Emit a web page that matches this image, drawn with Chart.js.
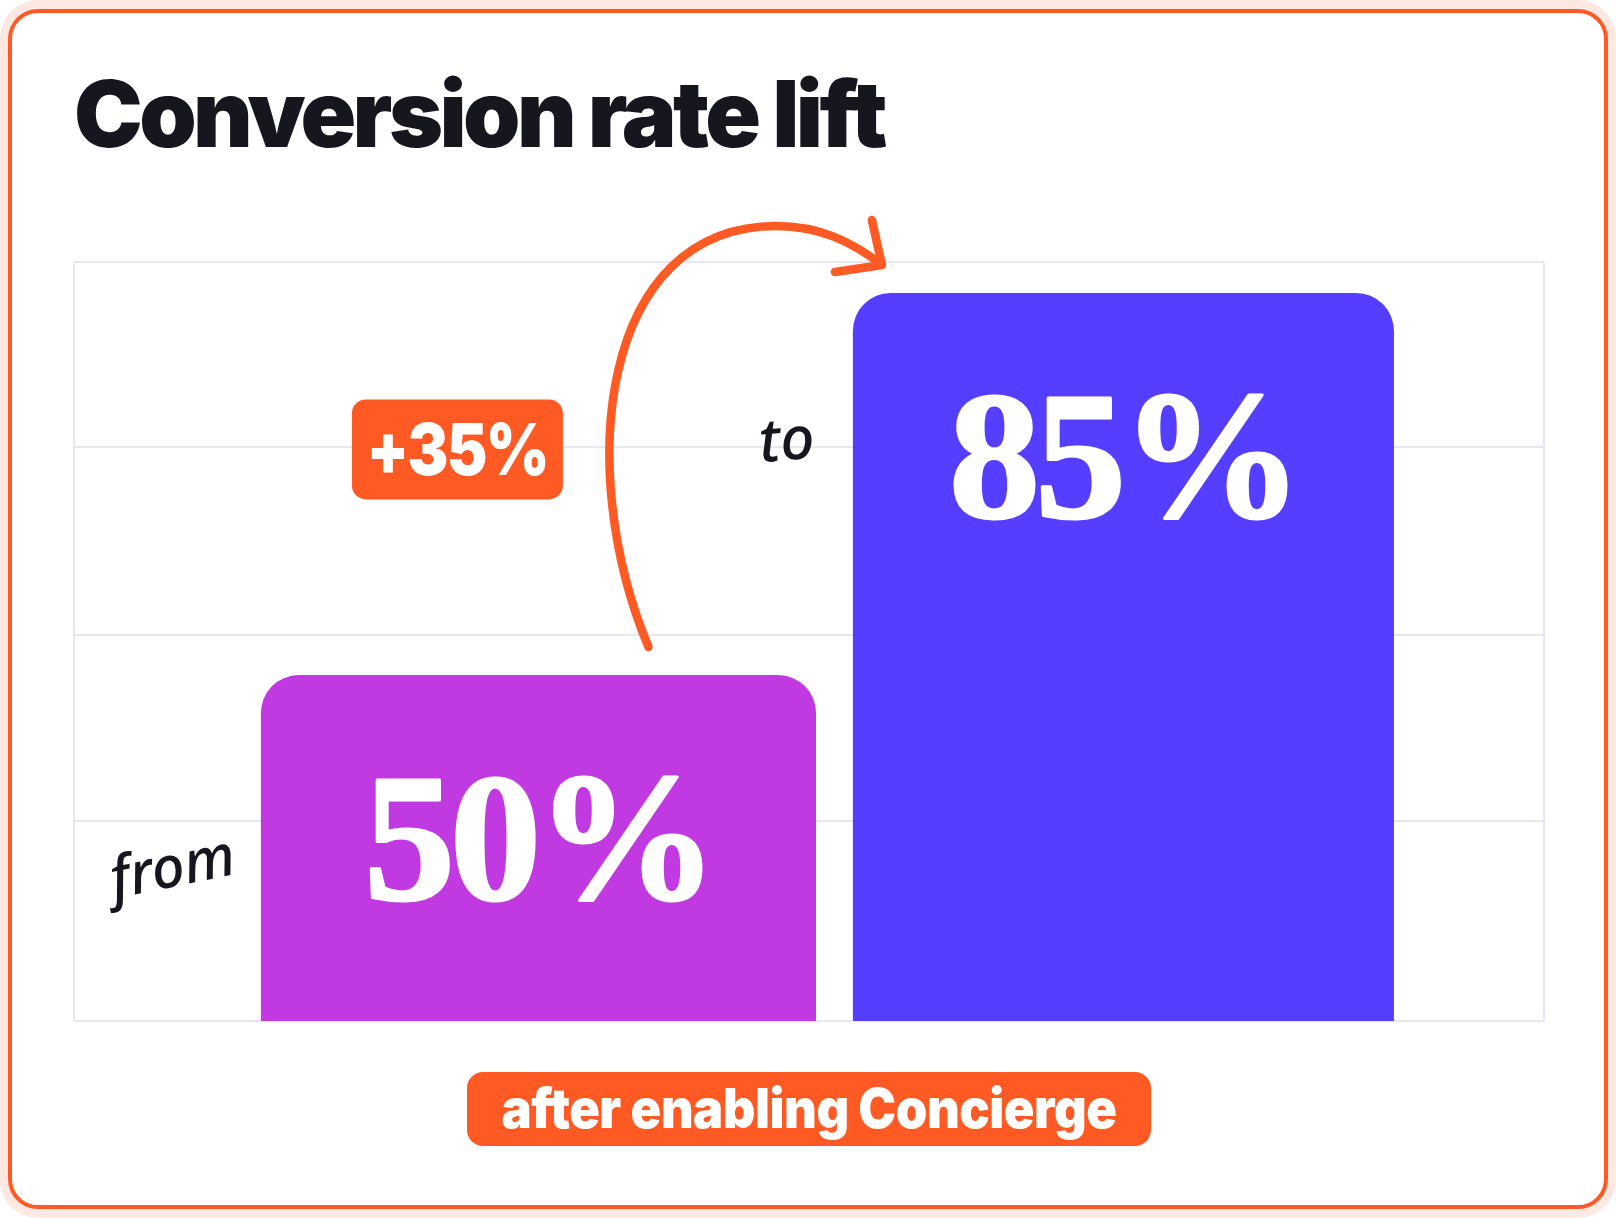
<!DOCTYPE html>
<html>
<head>
<meta charset="utf-8">
<title>Conversion rate lift</title>
<script src="https://cdn.jsdelivr.net/npm/chart.js@4.4.1/dist/chart.umd.min.js"></script>
<style>
  html, body { margin: 0; padding: 0; background: #fff; }
  .page { position: relative; width: 1616px; height: 1218px; overflow: hidden; }
  .glow { position: absolute; left: 0; top: 0; width: 1616px; height: 1218px; border-radius: 38px; background: #FDE9E1; }
  .frame { position: absolute; left: 8px; top: 9px; width: 1600px; height: 1200px; box-sizing: border-box;
           border: 4px solid #FF5A24; border-radius: 30px; background: #fff; }
  .chart-box { position: absolute; left: 0; top: 0; width: 1616px; height: 1218px; }
</style>
</head>
<body>
<div class="page">
  <div class="glow"></div>
  <div class="frame"></div>
  <div class="chart-box"><canvas id="liftChart"></canvas></div>
</div>
<script>
// chart values
const categories = ['from', 'to'];
const values = [50, 85];
const valueLabels = ['50%', '85%'];
const gridTicks = [18.3, 36.6, 53.7, 70.9, 87.8];
const footerText = 'after enabling Concierge';

const barColors = ['#C139E0', '#553EFF'];
const barWidths = [0.949, 0.925];
const ORANGE = '#FF5A24';
const INK = '#16161F';

function roundRect(ctx, x, y, w, h, r) {
  ctx.beginPath();
  ctx.moveTo(x + r, y);
  ctx.arcTo(x + w, y, x + w, y + h, r);
  ctx.arcTo(x + w, y + h, x, y + h, r);
  ctx.arcTo(x, y + h, x, y, r);
  ctx.arcTo(x, y, x + w, y, r);
  ctx.closePath();
}

// condensed heavy label, squeezed horizontally around its centre
function squeezedText(ctx, text, cx, baseline, sx) {
  ctx.save();
  ctx.translate(cx, baseline);
  ctx.scale(sx, 1);
  ctx.fillText(text, 0, 0);
  ctx.restore();
}

// the title uses tight tracking, reset before the bars are drawn
const tightTitle = {
  id: 'tightTitle',
  beforeDraw(chart) { chart.ctx.letterSpacing = '-3.6px'; },
  beforeDatasetsDraw(chart) { chart.ctx.letterSpacing = '0px'; }
};

const annotations = {
  id: 'annotations',
  afterDatasetsDraw(chart) {
    const ctx = chart.ctx;
    const area = chart.chartArea;
    const b1 = chart.getDatasetMeta(0).data[0];
    const b2 = chart.getDatasetMeta(1).data[0];
    const bars = [b1, b2];
    const b1Left = b1.x - b1.width / 2;
    const b2Left = b2.x - b2.width / 2;

    ctx.save();

    // big values inside the bars
    ctx.fillStyle = '#fff';
    ctx.strokeStyle = '#fff';
    ctx.lineWidth = 3;
    ctx.lineJoin = 'round';
    ctx.font = 'bold 182px "Liberation Serif", serif';
    ctx.textAlign = 'center';
    ctx.textBaseline = 'alphabetic';
    ctx.letterSpacing = '-5px';
    bars.forEach((bar, i) => {
      ctx.fillText(valueLabels[i], bar.x, bar.y + 224);
      ctx.strokeText(valueLabels[i], bar.x, bar.y + 224);
    });

    // handwritten category words
    ctx.letterSpacing = '0px';
    ctx.fillStyle = INK;
    ctx.textBaseline = 'middle';
    ctx.font = 'italic 500 58px "Noto Sans", sans-serif';
    ctx.save();
    ctx.translate(b1Left - 88, area.bottom - 151);
    ctx.rotate(-0.2);
    ctx.fillText(categories[0], 0, 0);
    ctx.restore();
    ctx.font = 'italic 500 60px "Noto Sans", sans-serif';
    ctx.save();
    ctx.translate(b2Left - 66, b2.y + 150);
    ctx.rotate(-0.08);
    ctx.fillText(categories[1], 0, 0);
    ctx.restore();

    // arrow from the first bar to the second
    const sx = b1.x + 110, sy = b1.y - 28;
    const tx = b2Left + 29, ty = b2.y - 28;
    const topX = sx + 128, topY = ty - 39;
    ctx.strokeStyle = ORANGE;
    ctx.lineWidth = 8.5;
    ctx.lineCap = 'round';
    ctx.lineJoin = 'round';
    ctx.beginPath();
    ctx.moveTo(sx, sy);
    ctx.bezierCurveTo(sx - 74, sy - 177, sx - 49, topY, topX, topY);
    ctx.bezierCurveTo(topX + 43, topY, topX + 76, topY + 16, tx, ty);
    ctx.stroke();
    ctx.beginPath();
    ctx.moveTo(tx - 10, ty - 45);
    ctx.lineTo(tx, ty);
    ctx.lineTo(tx - 47, ty + 7);
    ctx.stroke();

    // lift badge
    const lift = '+' + (values[1] - values[0]) + '%';
    const bw = 211, bh = 100;
    const bx = b1Left + 91, by = area.top + 137;
    ctx.fillStyle = ORANGE;
    roundRect(ctx, bx, by, bw, bh, 14);
    ctx.fill();
    ctx.fillStyle = '#fff';
    ctx.font = '900 72px Inter, sans-serif';
    ctx.letterSpacing = '-2px';
    ctx.textAlign = 'center';
    ctx.textBaseline = 'alphabetic';
    squeezedText(ctx, lift, bx + bw / 2, by + 76, 0.85);

    // footer badge
    const cx = (area.left + area.right) / 2;
    const fw = 684, fh = 74;
    const fx = cx - fw / 2, fy = area.bottom + 51;
    ctx.fillStyle = ORANGE;
    roundRect(ctx, fx, fy, fw, fh, 16);
    ctx.fill();
    ctx.fillStyle = '#fff';
    ctx.font = '900 55px Inter, sans-serif';
    ctx.letterSpacing = '-0.5px';
    squeezedText(ctx, footerText, cx, fy + 56, 0.92);

    ctx.restore();
  }
};

new Chart(document.getElementById('liftChart'), {
  type: 'bar',
  data: {
    datasets: values.map((v, i) => ({
      label: categories[i],
      data: [{ x: i, y: v }],
      backgroundColor: barColors[i],
      borderWidth: 0,
      borderRadius: { topLeft: 38, topRight: 38, bottomLeft: 0, bottomRight: 0 },
      borderSkipped: 'bottom',
      grouped: false,
      categoryPercentage: 1,
      barPercentage: barWidths[i]
    }))
  },
  options: {
    responsive: true,
    maintainAspectRatio: false,
    animation: false,
    events: [],
    layout: { padding: { left: 74, right: 72, top: 64, bottom: 197 } },
    plugins: {
      legend: { display: false },
      tooltip: { enabled: false },
      title: {
        display: true,
        text: 'Conversion rate lift',
        align: 'start',
        color: INK,
        font: { family: 'Inter', size: 92, weight: '900', lineHeight: 1.2 },
        padding: { top: 0, bottom: 88 }
      }
    },
    scales: {
      x: {
        type: 'linear',
        min: -0.794,
        max: 1.719,
        offset: false,
        afterBuildTicks: (scale) => { scale.ticks = [{ value: scale.min }, { value: scale.max }]; },
        ticks: { display: false },
        border: { display: false },
        grid: { offset: false, color: '#E7E6F5', lineWidth: 2, drawTicks: false }
      },
      y: {
        min: gridTicks[0],
        max: gridTicks[gridTicks.length - 1],
        afterBuildTicks: (scale) => { scale.ticks = gridTicks.map(v => ({ value: v })); },
        ticks: { display: false },
        border: { display: false },
        grid: { color: '#E7E6F5', lineWidth: 2, drawTicks: false }
      }
    }
  },
  plugins: [tightTitle, annotations]
});
</script>
</body>
</html>
